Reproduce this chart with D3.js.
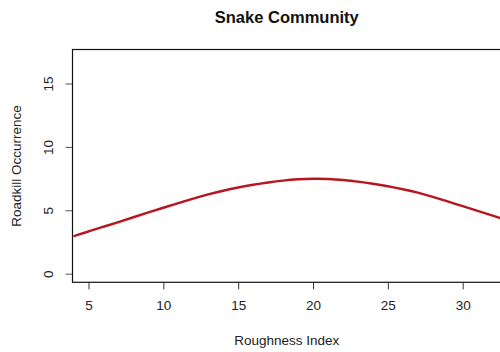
<!DOCTYPE html>
<html>
<head>
<meta charset="utf-8">
<script src="https://cdn.jsdelivr.net/npm/d3@7"></script>
<style>
  html, body { margin: 0; padding: 0; background: #fff; }
  svg { display: block; font-family: "Liberation Sans", Arial, sans-serif; }
</style>
</head>
<body>
<svg id="chart" width="500" height="352"></svg>
<script>
// Fitted roadkill occurrence against roughness index
const roughness = [4, 5, 6, 7, 8, 9, 10, 11, 12, 13, 14, 15, 16, 17, 18, 19, 20, 21, 22, 23, 24, 25, 26, 27, 28, 29, 30, 31, 32, 33];
const occurrence = [2.95, 3.33, 3.7, 4.07, 4.45, 4.83, 5.2, 5.57, 5.93, 6.26, 6.55, 6.8, 7.02, 7.2, 7.35, 7.45, 7.5, 7.48, 7.4, 7.27, 7.1, 6.9, 6.66, 6.4, 6.07, 5.7, 5.32, 4.95, 4.58, 4.2];
const xTicks = [5, 10, 15, 20, 25, 30];
const yTicks = [0, 5, 10, 15];

const plot = { left: 72.5, right: 501, top: 49.5, bottom: 282.3 };

const svg = d3.select("#chart");

// x: 3.93 .. 32.56 across the plot region; y: 0..17 padded by 4%
const x = d3.scaleLinear().domain([3.93, 32.56]).range([plot.left, plot.right]);
const y = d3.scaleLinear().domain([-0.68, 17.68]).range([plot.bottom, plot.top]);

svg.append("defs").append("clipPath").attr("id", "plotClip")
  .append("rect")
  .attr("x", plot.left).attr("y", plot.top)
  .attr("width", plot.right - plot.left).attr("height", plot.bottom - plot.top);

// Curve
const line = d3.line()
  .x((d, i) => x(roughness[i]))
  .y(d => y(d))
  .curve(d3.curveBasis);

svg.append("path")
  .datum(occurrence)
  .attr("clip-path", "url(#plotClip)")
  .attr("fill", "none")
  .attr("stroke", "#b8161e")
  .attr("stroke-width", 2.4)
  .attr("stroke-linejoin", "round")
  .attr("d", line);

// Axes
const xAxis = svg.append("g")
  .attr("transform", `translate(0,${plot.bottom})`)
  .call(d3.axisBottom(x).tickValues(xTicks).tickSize(7).tickPadding(11).tickFormat(d3.format("d")));
xAxis.select(".domain").remove();
xAxis.selectAll("line").attr("stroke", "#333");
xAxis.selectAll("text").attr("font-size", 13.5).attr("fill", "#222")
  .attr("font-family", "Liberation Sans, Arial, sans-serif");

const yAxis = svg.append("g")
  .attr("transform", `translate(${plot.left},0)`)
  .call(d3.axisLeft(y).tickValues(yTicks).tickSize(7).tickFormat(d3.format("d")));
yAxis.select(".domain").remove();
yAxis.selectAll("line").attr("stroke", "#555");
yAxis.selectAll("text")
  .attr("font-size", 13.5).attr("fill", "#222")
  .attr("font-family", "Liberation Sans, Arial, sans-serif")
  .attr("x", null).attr("dy", null)
  .attr("text-anchor", "middle")
  .attr("transform", "translate(-24,0) rotate(-90)")
  .attr("dominant-baseline", "central");

// Plot box
svg.append("rect")
  .attr("x", plot.left).attr("y", plot.top)
  .attr("width", plot.right - plot.left).attr("height", plot.bottom - plot.top)
  .attr("fill", "none").attr("stroke", "#111").attr("stroke-width", 1.2);

// Titles
const cx = (plot.left + plot.right) / 2;
svg.append("text")
  .attr("x", cx).attr("y", 22.5)
  .attr("text-anchor", "middle")
  .attr("font-size", 16.5).attr("font-weight", "bold").attr("fill", "#111")
  .text("Snake Community");

svg.append("text")
  .attr("x", cx).attr("y", 345)
  .attr("text-anchor", "middle")
  .attr("font-size", 13.5).attr("fill", "#222")
  .text("Roughness Index");

svg.append("text")
  .attr("transform", `translate(21,${(plot.top + plot.bottom) / 2}) rotate(-90)`)
  .attr("text-anchor", "middle")
  .attr("font-size", 13.5).attr("fill", "#222")
  .text("Roadkill Occurrence");
</script>
</body>
</html>
